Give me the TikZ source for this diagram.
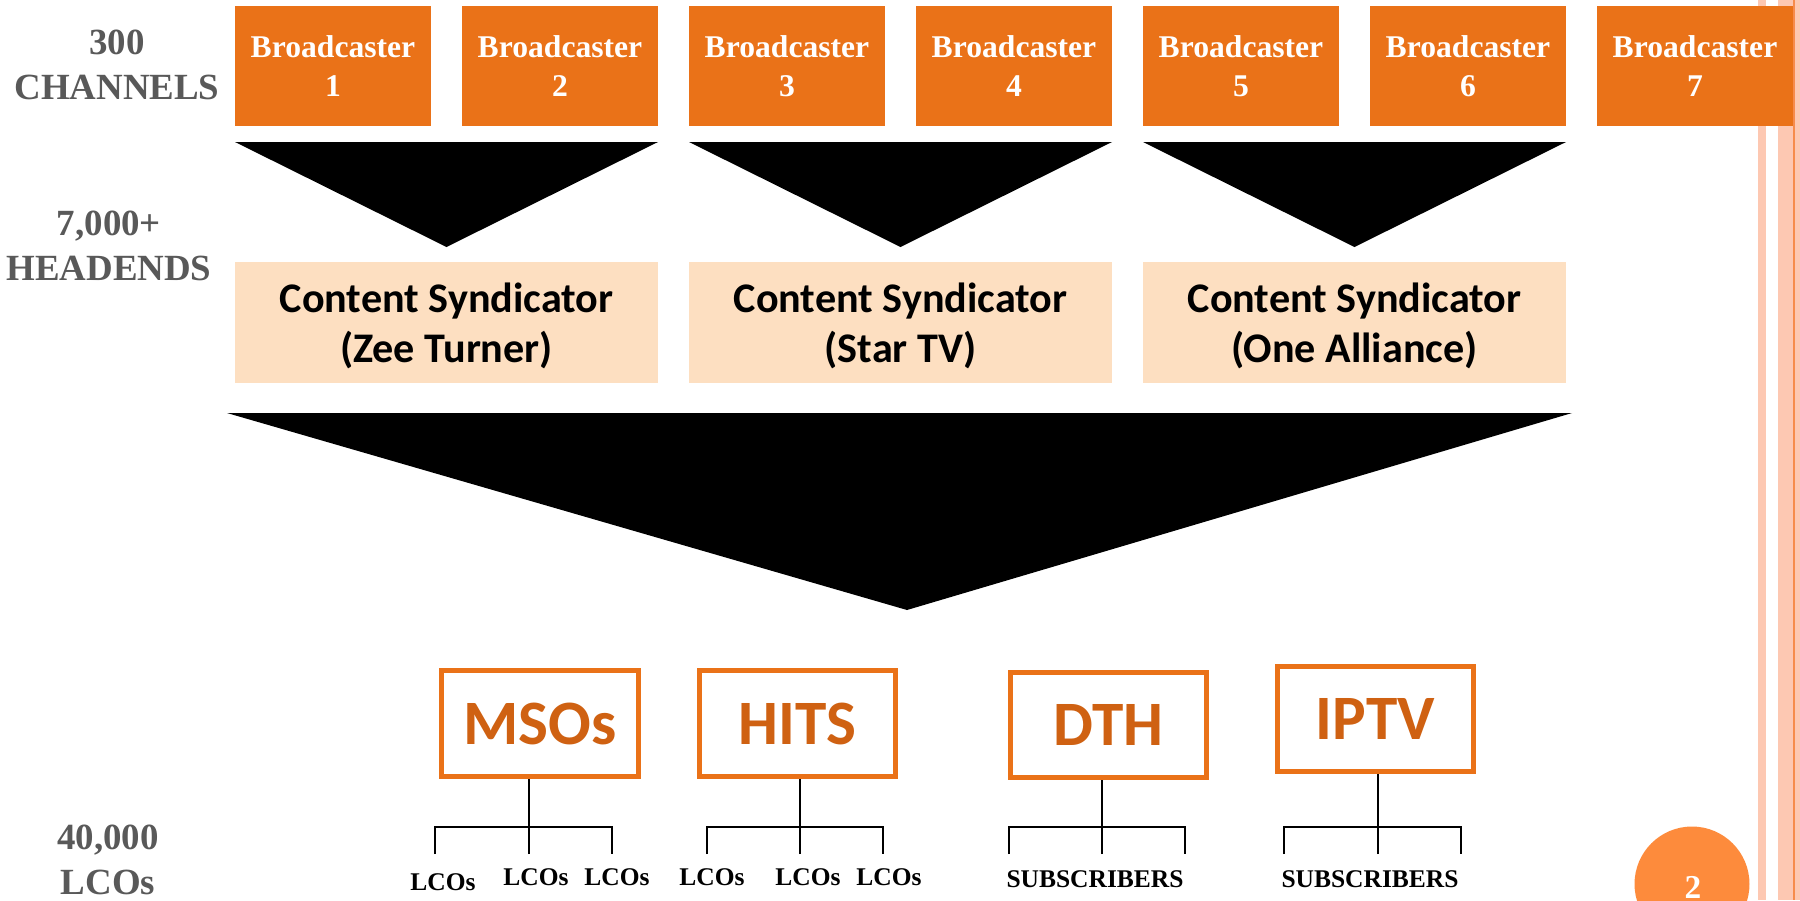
\documentclass[tikz,border=0pt]{standalone}
\usepackage{fontspec}
\setmainfont{Liberation Serif}
\newfontfamily\carlito{Carlito}

\definecolor{bcorange}{RGB}{234,114,24}
\definecolor{outletText}{RGB}{207,97,18}
\definecolor{peach}{RGB}{253,223,193}
\definecolor{labelgray}{RGB}{89,89,89}
\definecolor{stripe}{RGB}{253,200,178}
\definecolor{stripeline}{RGB}{246,140,76}
\definecolor{pagecirc}{RGB}{253,139,60}

\tikzset{
  bcast/.style={fill=bcorange, text=white, inner sep=0pt, align=center,
    minimum width=3.92cm, minimum height=2.4cm,
    font=\fontsize{18}{22}\selectfont\bfseries},
  synd/.style={fill=peach, inner sep=0pt, align=center, text depth=0pt,
    minimum width=8.46cm, minimum height=2.42cm,
    font=\carlito\fontsize{24}{28.5}\selectfont\bfseries},
  outlet/.style={draw=bcorange, line width=0.1cm, text=outletText, inner sep=0pt,
    minimum width=3.94cm, minimum height=2.12cm,
    font=\carlito\fontsize{36}{40}\selectfont\bfseries},
  count/.style={text=labelgray, align=center, inner sep=0pt,
    font=\fontsize{21}{25.6}\selectfont\bfseries},
  leaf/.style={anchor=base, inner sep=0pt,
    font=\fontsize{14.5}{17}\selectfont\bfseries},
  tree/.style={line width=0.04cm}
}

\begin{document}
\begin{tikzpicture}[x=0.02cm,y=-0.02cm]

\clip (0,0) rectangle (1800,900);
\fill[white] (0,0) rectangle (1800,900);

% Slide border stripes
\fill[stripe] (1758,0) rectangle (1766,900);
\fill[stripe] (1778,0) rectangle (1800,900);
\fill[stripeline] (1793,0) rectangle (1795,900);

% Broadcasters
\foreach \i in {1,...,7} {
	\node[bcast] (b\i) at ({333+227*(\i-1)},66) {Broadcaster\\\i};
}

% Funnels into the syndicators
\foreach \k in {0,1,2} {
	\fill ({235+454*\k},142) -- ({658+454*\k},142) -- ({446.5+454*\k},247) -- cycle;
}

% Content syndicators
\node[synd] (zee) at (446.5,322.5) {Content Syndicator\\(Zee Turner)};
\node[synd] (star) at (900.5,322.5) {Content Syndicator\\(Star TV)};
\node[synd] (alliance) at (1354.5,322.5) {Content Syndicator\\(One Alliance)};

% Big funnel into the distributors
\fill (227,413) -- (1572,413) -- (907,610) -- cycle;

% Distributors
\node[outlet] (msos) at (540,723.5) {MSOs};
\node[outlet] (hits) at (797.5,723.5) {HITS};
\node[outlet] (dth) at (1108.5,725) {DTH};
\node[outlet] (iptv) at (1375.5,719) {IPTV};

% Branches below each distributor
\foreach \o/\m/\l/\r in {msos/529/435/612, hits/800/707/883, dth/1102/1009/1185, iptv/1378/1284/1461} {
	\coordinate (\o-j) at (\m,827);
	\coordinate (\o-1) at (\l,854);
	\coordinate (\o-2) at (\m,854);
	\coordinate (\o-3) at (\r,854);
	\draw[tree] (\o-2) -- (\o-j |- \o.south);
	\draw[tree] (\o-1) |- (\o-j) -| (\o-3);
}

% Leaves
\node[leaf] (lco1) at (443,890) {LCOs};
\node[leaf] (lco2) at (536,885) {LCOs};
\node[leaf] (lco3) at (617,885) {LCOs};
\node[leaf] (lco4) at (712,885) {LCOs};
\node[leaf] (lco5) at (808,885) {LCOs};
\node[leaf] (lco6) at (889,885) {LCOs};
\node[leaf] (subs1) at (1095,887) {SUBSCRIBERS};
\node[leaf] (subs2) at (1370,887) {SUBSCRIBERS};

% Counts on the left
\node[count] (channels) at (117,65) {300\\CHANNELS};
\node[count] (headends) at (109,246) {7,000+\\HEADENDS};
\node[count] (lcos) at (108,860) {40,000\\LCOs};

% Page number
\fill[pagecirc] (1692,884) circle[radius=1.15cm];
\node[text=white, anchor=base, inner sep=0pt, font=\fontsize{19}{22}\selectfont\bfseries] (pageno) at (1693,898) {2};

\end{tikzpicture}
\end{document}
